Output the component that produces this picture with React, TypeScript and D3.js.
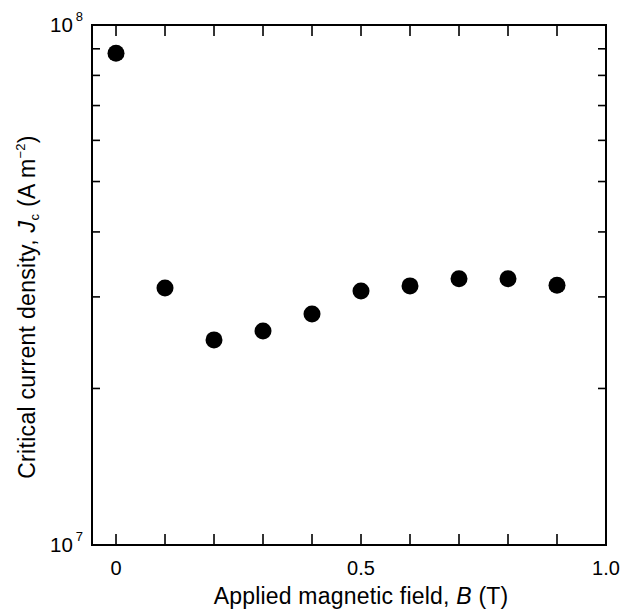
import React from 'react'
import * as d3 from 'd3'

// applied field (T) and critical current density (A m^-2)
const fields = [0, 0.1, 0.2, 0.3, 0.4, 0.5, 0.6, 0.7, 0.8, 0.9]
const jc = [8.82e7, 3.12e7, 2.48e7, 2.58e7, 2.78e7, 3.08e7, 3.15e7, 3.25e7, 3.25e7, 3.16e7]
const xLabels = [{ v: 0, t: '0' }, { v: 0.5, t: '0.5' }, { v: 1.0, t: '1.0' }]
const yLabels = [{ v: 1e7, exp: '7' }, { v: 1e8, exp: '8' }]

const W = 624
const H = 609
const left = 92, right = 606, top = 25, bottom = 545
const font = 'Liberation Sans, Arial, Helvetica, sans-serif'

export default function App() {
  const x = d3.scaleLinear().domain([-0.049, 1.0]).range([left, right])
  const y = d3.scaleLog().domain([1e7, 1e8]).range([bottom, top])

  const xTicks = d3.range(0, 10).map(i => i / 10)
  const yTicks = y.ticks().filter(t => t > 1e7 && t < 1e8)

  return (
    <svg width={W} height={H} style={{ position: 'absolute', left: 0, top: 0, background: '#fff' }}
      fontFamily={font}>
      <rect x={left} y={top} width={right - left} height={bottom - top}
        fill='none' stroke='#000' strokeWidth={2} />
      {xTicks.map(t => (
        <g key={'x' + t} stroke='#000' strokeWidth={1.6}>
          <line x1={x(t)} x2={x(t)} y1={bottom} y2={bottom - 11} />
          <line x1={x(t)} x2={x(t)} y1={top} y2={top + 11} />
        </g>
      ))}
      {yTicks.map(t => (
        <g key={'y' + t} stroke='#000' strokeWidth={1.6}>
          <line x1={left} x2={left + 8} y1={y(t)} y2={y(t)} />
          <line x1={right} x2={right - 8} y1={y(t)} y2={y(t)} />
        </g>
      ))}
      {xLabels.map(d => (
        <text key={d.t} x={x(d.v)} y={575} fontSize={20} textAnchor='middle'>{d.t}</text>
      ))}
      {yLabels.map(d => (
        <text key={d.exp} x={50} y={y(d.v) + 7} fontSize={20.5}>
          10<tspan dy={-11} dx={3} fontSize={13}>{d.exp}</tspan>
        </text>
      ))}
      {fields.map((f, i) => (
        <circle key={i} cx={x(f)} cy={y(jc[i])} r={8.5} fill='#000' />
      ))}
      <text x={361} y={604} fontSize={23} textAnchor='middle' letterSpacing={0.2}>
        Applied magnetic field, <tspan fontStyle='italic'>B</tspan> (T)
      </text>
      <text transform='translate(35,307) rotate(-90)' fontSize={23} textAnchor='middle' letterSpacing={0.3}>
        Critical current density, <tspan fontStyle='italic'>J</tspan>
        <tspan fontSize={13} dy={4}>c</tspan>
        <tspan dy={-4}> (A m</tspan>
        <tspan fontSize={13} dy={-10}>−2</tspan>
        <tspan dy={10}>)</tspan>
      </text>
    </svg>
  )
}
